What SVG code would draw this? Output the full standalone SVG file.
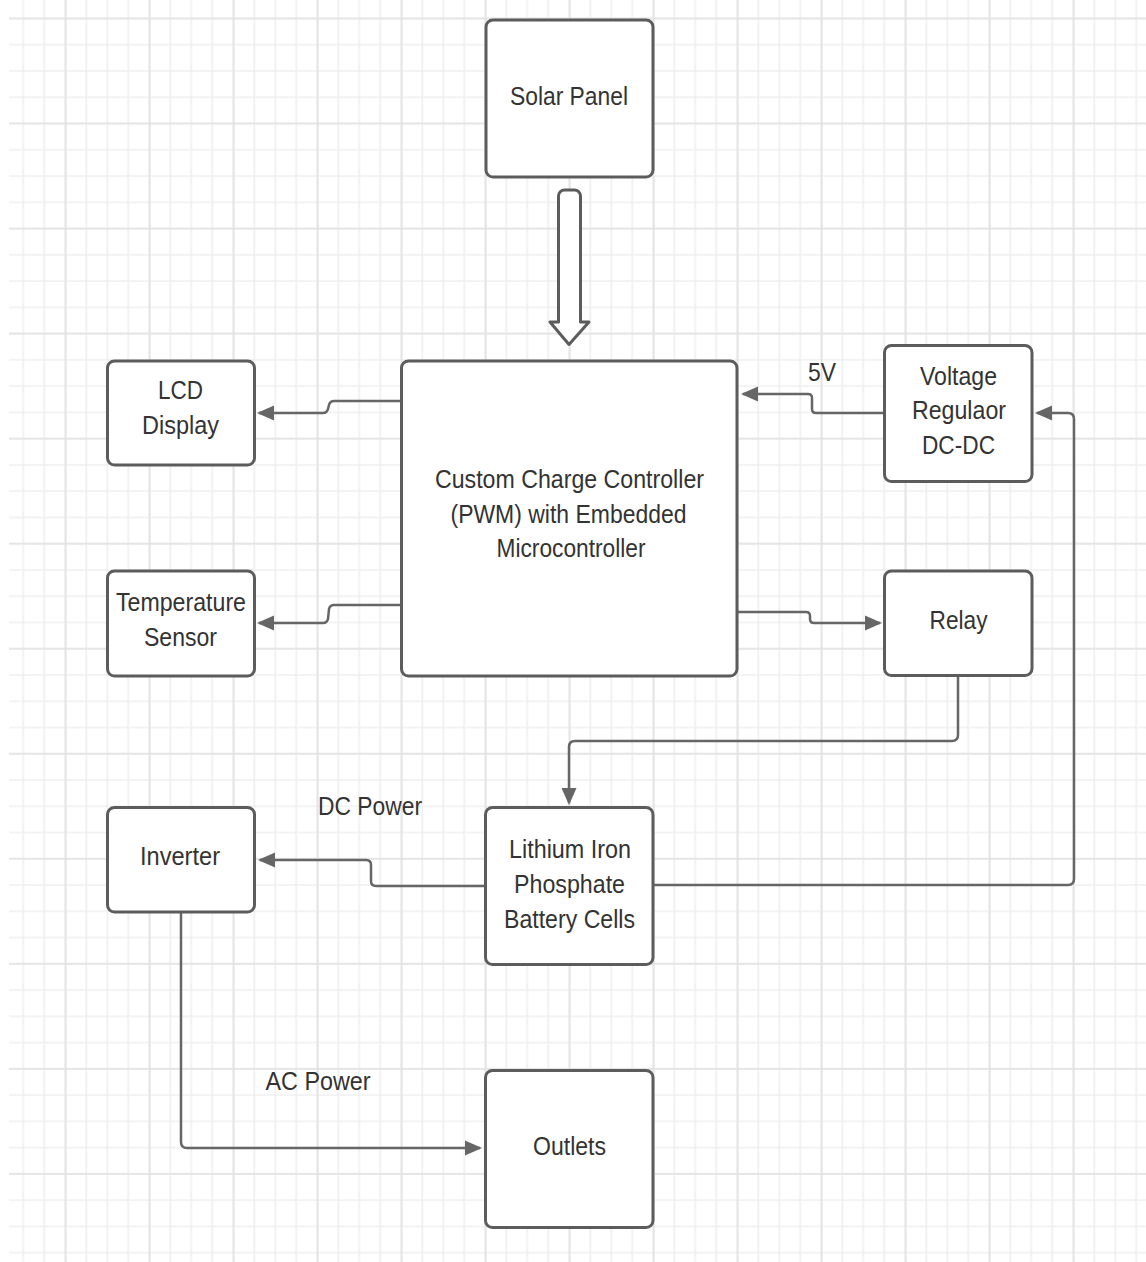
<svg xmlns="http://www.w3.org/2000/svg" width="1146" height="1262" viewBox="0 0 1146 1262">
<style>
.box{fill:#ffffff;stroke:#5c5c5c;stroke-width:3}
.lbl{font-family:"Liberation Sans",Arial,sans-serif;font-size:26px;fill:#333333;text-anchor:middle}
.con{fill:none;stroke:#666666;stroke-width:2.5;stroke-linejoin:round}
.blk{fill:#ffffff;stroke:#5c5c5c;stroke-width:3;stroke-linejoin:round}
</style>
<defs>
<pattern id="gmin" patternUnits="userSpaceOnUse" x="1.3" y="17.5" width="21" height="26.26">
<path d="M1,0 V26.26 M0,1 H21" stroke="#efefef" stroke-width="1.6" fill="none"/>
</pattern>
<pattern id="gmaj" patternUnits="userSpaceOnUse" x="64.7" y="17.5" width="84" height="105.04">
<path d="M1,0 V105.04 M0,1 H84" stroke="#e2e2e2" stroke-width="1.6" fill="none"/>
</pattern>
<marker id="ah" markerUnits="userSpaceOnUse" markerWidth="18" markerHeight="16" refX="15" refY="8" orient="auto">
<path d="M0,0.5 L17,8 L0,15.5 Z" fill="#666666"/>
</marker>
</defs>
<rect width="1146" height="1262" fill="#ffffff"/>
<rect x="9" y="0" width="1137" height="1262" fill="url(#gmin)"/>
<rect x="9" y="0" width="1137" height="1262" fill="url(#gmaj)"/>

<g id="connectors">
<path class="blk" d="M558.5,196 a6,6 0 0 1 6,-6 h10 a6,6 0 0 1 6,6 V322 h8.5 L569,344.5 L550,322 h8.5 Z"/>
<path class="con" d="M401,401 H334 Q330,401 329,405 L328,409 Q327,413 323,413 H259" marker-end="url(#ah)"/>
<path class="con" d="M401,605 H334 Q330,605 329,609 L328,619 Q327,623 323,623 H259" marker-end="url(#ah)"/>
<path class="con" d="M884,413 H816 Q812,413 812,409 V398 Q812,394 808,394 H743" marker-end="url(#ah)"/>
<path class="con" d="M737,612 H806 Q810,612 810,616 V619 Q810,623 814,623 H880" marker-end="url(#ah)"/>
<path class="con" d="M958,676 V735 Q958,741 952,741 H575 Q569,741 569,747 V803" marker-end="url(#ah)"/>
<path class="con" d="M653,885 H1068 Q1074,885 1074,879 V419 Q1074,413 1068,413 H1037" marker-end="url(#ah)"/>
<path class="con" d="M485,886 H376 Q371,886 371,881 V865 Q371,860 366,860 H260" marker-end="url(#ah)"/>
<path class="con" d="M181,912 V1142 Q181,1148 187,1148 H480" marker-end="url(#ah)"/>
<text class="lbl" x="822" y="381" textLength="28" lengthAdjust="spacingAndGlyphs">5V</text>
<text class="lbl" x="370" y="815" textLength="104" lengthAdjust="spacingAndGlyphs">DC Power</text>
<text class="lbl" x="318" y="1090" textLength="105" lengthAdjust="spacingAndGlyphs">AC Power</text>
</g>

<g id="solar-panel">
<rect class="box" x="486" y="20" width="167" height="157" rx="7"/>
<text class="lbl" x="569" y="105" textLength="118" lengthAdjust="spacingAndGlyphs">Solar Panel</text>
</g>
<g id="charge-controller">
<rect class="box" x="401.5" y="361" width="335.5" height="315" rx="7"/>
<text class="lbl" x="569.5" y="488" textLength="269" lengthAdjust="spacingAndGlyphs">Custom Charge Controller</text>
<text class="lbl" x="568.5" y="522.5" textLength="236" lengthAdjust="spacingAndGlyphs">(PWM) with Embedded</text>
<text class="lbl" x="571" y="557" textLength="149" lengthAdjust="spacingAndGlyphs">Microcontroller</text>
</g>
<g id="lcd-display">
<rect class="box" x="107.5" y="361" width="147" height="104" rx="7"/>
<text class="lbl" x="180.5" y="399" textLength="45" lengthAdjust="spacingAndGlyphs">LCD</text>
<text class="lbl" x="180.5" y="434" textLength="77" lengthAdjust="spacingAndGlyphs">Display</text>
</g>
<g id="temperature-sensor">
<rect class="box" x="107.5" y="571" width="147" height="105" rx="7"/>
<text class="lbl" x="181" y="611" textLength="130" lengthAdjust="spacingAndGlyphs">Temperature</text>
<text class="lbl" x="180.5" y="646" textLength="73" lengthAdjust="spacingAndGlyphs">Sensor</text>
</g>
<g id="voltage-regulator">
<rect class="box" x="884.5" y="345.5" width="147.5" height="136" rx="7"/>
<text class="lbl" x="958.5" y="385" textLength="77" lengthAdjust="spacingAndGlyphs">Voltage</text>
<text class="lbl" x="959" y="419" textLength="94" lengthAdjust="spacingAndGlyphs">Regulaor</text>
<text class="lbl" x="958.5" y="453.5" textLength="73" lengthAdjust="spacingAndGlyphs">DC-DC</text>
</g>
<g id="relay">
<rect class="box" x="884.5" y="571" width="147.5" height="104.5" rx="7"/>
<text class="lbl" x="958.5" y="629" textLength="58" lengthAdjust="spacingAndGlyphs">Relay</text>
</g>
<g id="battery">
<rect class="box" x="485.5" y="807.5" width="167.5" height="157" rx="7"/>
<text class="lbl" x="570" y="858" textLength="122" lengthAdjust="spacingAndGlyphs">Lithium Iron</text>
<text class="lbl" x="569.5" y="893" textLength="111" lengthAdjust="spacingAndGlyphs">Phosphate</text>
<text class="lbl" x="569.5" y="928" textLength="131" lengthAdjust="spacingAndGlyphs">Battery Cells</text>
</g>
<g id="inverter">
<rect class="box" x="107.5" y="807.5" width="147" height="104.5" rx="7"/>
<text class="lbl" x="180" y="865" textLength="80" lengthAdjust="spacingAndGlyphs">Inverter</text>
</g>
<g id="outlets">
<rect class="box" x="485.5" y="1070.5" width="167.5" height="157" rx="7"/>
<text class="lbl" x="569.5" y="1155" textLength="73" lengthAdjust="spacingAndGlyphs">Outlets</text>
</g>
</svg>
